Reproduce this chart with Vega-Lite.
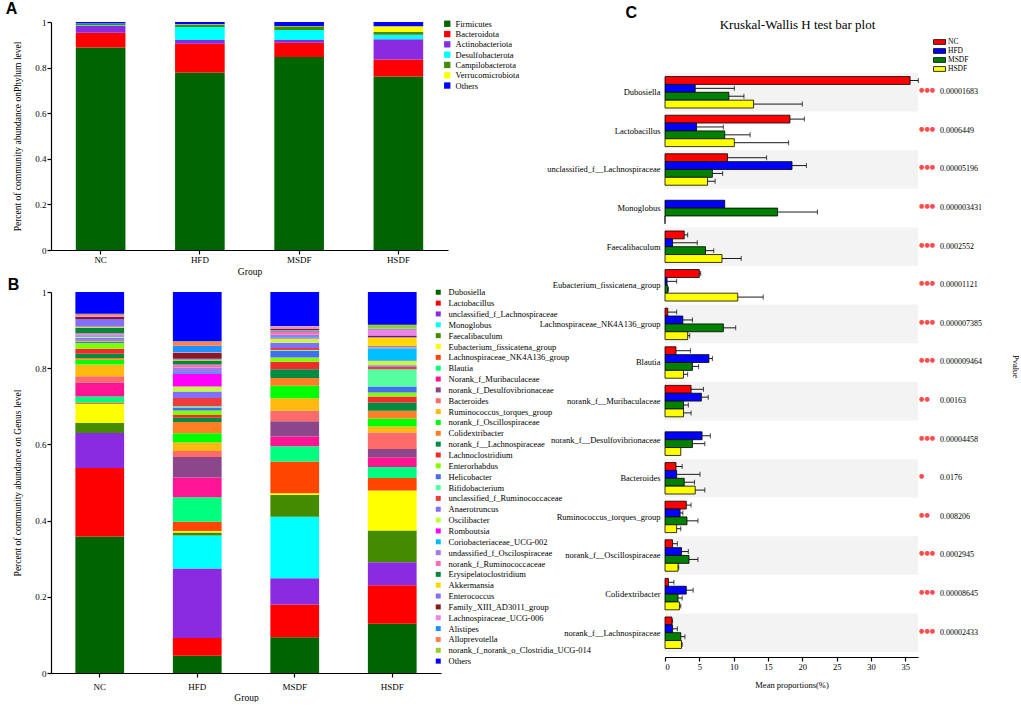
{
"$schema": "https://vega.github.io/schema/vega-lite/v6.json",
"background": "white",
"padding": {"left": 5, "top": 1, "right": 0, "bottom": 0},
"bounds": "flush",
"spacing": 614,
"resolve": {"scale": {"color": "independent"}, "legend": {"color": "independent"}},
"hconcat": [
{
"vconcat": [
{
"width": 397, "height": 228,
"title": {"text": "A", "anchor": "start", "frame": "bounds", "font": "Liberation Sans", "fontSize": 16, "fontWeight": "bold", "dx": -7, "offset": 1, "color": "black"},
"data": {"values": [
{"g":"NC","t":"Firmicutes","v":0.888},{"g":"NC","t":"Bacteroidota","v":0.065},{"g":"NC","t":"Actinobacteriota","v":0.029},{"g":"NC","t":"Desulfobacterota","v":0.004},{"g":"NC","t":"Campilobacterota","v":0.006},{"g":"NC","t":"Verrucomicrobiota","v":0.001},{"g":"NC","t":"Others","v":0.007},
{"g":"HFD","t":"Firmicutes","v":0.778},{"g":"HFD","t":"Bacteroidota","v":0.127},{"g":"HFD","t":"Actinobacteriota","v":0.016},{"g":"HFD","t":"Desulfobacterota","v":0.057},{"g":"HFD","t":"Campilobacterota","v":0.010},{"g":"HFD","t":"Verrucomicrobiota","v":0.002},{"g":"HFD","t":"Others","v":0.010},
{"g":"MSDF","t":"Firmicutes","v":0.847},{"g":"MSDF","t":"Bacteroidota","v":0.062},{"g":"MSDF","t":"Actinobacteriota","v":0.012},{"g":"MSDF","t":"Desulfobacterota","v":0.044},{"g":"MSDF","t":"Campilobacterota","v":0.016},{"g":"MSDF","t":"Verrucomicrobiota","v":0.002},{"g":"MSDF","t":"Others","v":0.017},
{"g":"HSDF","t":"Firmicutes","v":0.761},{"g":"HSDF","t":"Bacteroidota","v":0.075},{"g":"HSDF","t":"Actinobacteriota","v":0.088},{"g":"HSDF","t":"Desulfobacterota","v":0.020},{"g":"HSDF","t":"Campilobacterota","v":0.012},{"g":"HSDF","t":"Verrucomicrobiota","v":0.025},{"g":"HSDF","t":"Others","v":0.019}
]},
"transform": [{"window": [{"op": "row_number", "as": "k"}], "groupby": ["g"]}],
"mark": {"type": "bar"},
"encoding": {
"x": {"field": "g", "type": "nominal", "sort": ["NC","HFD","MSDF","HSDF"], "scale": {"paddingInner": 0.5, "paddingOuter": 0.25}, "axis": {"title": "Group", "labelAngle": 0, "labelPadding": 1.5, "titlePadding": 2}},
"y": {"field": "v", "type": "quantitative", "stack": "zero", "scale": {"domain": [0, 1], "nice": false}, "axis": {"title": "Percent of community abundance onPhylum level", "values": [0, 0.2, 0.4, 0.6, 0.8, 1], "format": ".1~f", "labelPadding": 1, "titlePadding": 12}},
"color": {"field": "t", "type": "nominal",
"scale": {"domain": ["Firmicutes","Bacteroidota","Actinobacteriota","Desulfobacterota","Campilobacterota","Verrucomicrobiota","Others"], "range": ["#006400","#FF0000","#8A2BE2","#00FFFF","#458B00","#FFFF00","#0000FF"]},
"legend": {"title": null, "orient": "none", "legendX": 392, "legendY": -2.5, "symbolType": "square", "symbolSize": 40, "symbolStrokeWidth": 0, "labelFontSize": 8.5, "rowPadding": 1.3, "labelOffset": 4}},
"order": {"field": "k", "type": "quantitative"}
}
},
{
"width": 390, "height": 381,
"title": {"text": "B", "anchor": "start", "frame": "bounds", "font": "Liberation Sans", "fontSize": 16, "fontWeight": "bold", "dx": -5, "offset": -5, "color": "black"},
"data": {"values": [
{"g":"NC","t":"Dubosiella","v":0.358},{"g":"NC","t":"Lactobacillus","v":0.180},{"g":"NC","t":"unclassified_f_Lachnospiraceae","v":0.092},{"g":"NC","t":"Monoglobus","v":0},{"g":"NC","t":"Faecalibaculum","v":0.026},{"g":"NC","t":"Eubacterium_fissicatena_group","v":0.051},{"g":"NC","t":"Lachnospiraceae_NK4A136_group","v":0.003},{"g":"NC","t":"Blautia","v":0.016},{"g":"NC","t":"Norank_f_Muribaculaceae","v":0.036},{"g":"NC","t":"norank_f_Desulfovibrionaceae","v":0.001},{"g":"NC","t":"Bacteroides","v":0.016},{"g":"NC","t":"Ruminococcus_torques_group","v":0.031},{"g":"NC","t":"norank_f_Oscillospiraceae","v":0.012},{"g":"NC","t":"Colidextribacter","v":0.005},{"g":"NC","t":"norank_f__Lachnospiraceae","v":0.011},{"g":"NC","t":"Lachnoclostridium","v":0.013},{"g":"NC","t":"Enterorhabdus","v":0.015},{"g":"NC","t":"Helicobacter","v":0.004},{"g":"NC","t":"Bifidobacterium","v":0.002},{"g":"NC","t":"unclassified_f_Ruminococcaceae","v":0.003},{"g":"NC","t":"Anaerotruncus","v":0.005},{"g":"NC","t":"Oscilibacter","v":0.002},{"g":"NC","t":"Romboutsia","v":0.001},{"g":"NC","t":"Coriobacteriaceae_UCG-002","v":0.002},{"g":"NC","t":"undassified_f_Oscilospiraceae","v":0.003},{"g":"NC","t":"norank_f_Ruminococcaceae","v":0.004},{"g":"NC","t":"Erysipelatoclostridium","v":0.014},{"g":"NC","t":"Akkermansia","v":0.003},{"g":"NC","t":"Enterococcus","v":0.020},{"g":"NC","t":"Family_XIII_AD3011_group","v":0.006},{"g":"NC","t":"Lachnospiraceae_UCG-006","v":0.002},{"g":"NC","t":"Alistipes","v":0.001},{"g":"NC","t":"Alloprevotella","v":0.004},{"g":"NC","t":"norank_f_norank_o_Clostridia_UCG-014","v":0.001},{"g":"NC","t":"Others","v":0.057},
{"g":"HFD","t":"Dubosiella","v":0.045},{"g":"HFD","t":"Lactobacillus","v":0.047},{"g":"HFD","t":"unclassified_f_Lachnospiraceae","v":0.182},{"g":"HFD","t":"Monoglobus","v":0.087},{"g":"HFD","t":"Faecalibaculum","v":0.008},{"g":"HFD","t":"Eubacterium_fissicatena_group","v":0.004},{"g":"HFD","t":"Lachnospiraceae_NK4A136_group","v":0.024},{"g":"HFD","t":"Blautia","v":0.064},{"g":"HFD","t":"Norank_f_Muribaculaceae","v":0.052},{"g":"HFD","t":"norank_f_Desulfovibrionaceae","v":0.054},{"g":"HFD","t":"Bacteroides","v":0.016},{"g":"HFD","t":"Ruminococcus_torques_group","v":0.022},{"g":"HFD","t":"norank_f_Oscillospiraceae","v":0.024},{"g":"HFD","t":"Colidextribacter","v":0.030},{"g":"HFD","t":"norank_f__Lachnospiraceae","v":0.011},{"g":"HFD","t":"Lachnoclostridium","v":0.007},{"g":"HFD","t":"Enterorhabdus","v":0.012},{"g":"HFD","t":"Helicobacter","v":0.008},{"g":"HFD","t":"Bifidobacterium","v":0.003},{"g":"HFD","t":"unclassified_f_Ruminococcaceae","v":0.022},{"g":"HFD","t":"Anaerotruncus","v":0.017},{"g":"HFD","t":"Oscilibacter","v":0.013},{"g":"HFD","t":"Romboutsia","v":0.035},{"g":"HFD","t":"Coriobacteriaceae_UCG-002","v":0.003},{"g":"HFD","t":"undassified_f_Oscilospiraceae","v":0.012},{"g":"HFD","t":"norank_f_Ruminococcaceae","v":0.008},{"g":"HFD","t":"Erysipelatoclostridium","v":0.010},{"g":"HFD","t":"Akkermansia","v":0.002},{"g":"HFD","t":"Enterococcus","v":0.003},{"g":"HFD","t":"Family_XIII_AD3011_group","v":0.015},{"g":"HFD","t":"Lachnospiraceae_UCG-006","v":0.002},{"g":"HFD","t":"Alistipes","v":0.017},{"g":"HFD","t":"Alloprevotella","v":0.010},{"g":"HFD","t":"norank_f_norank_o_Clostridia_UCG-014","v":0.002},{"g":"HFD","t":"Others","v":0.129},
{"g":"MSDF","t":"Dubosiella","v":0.094},{"g":"MSDF","t":"Lactobacillus","v":0.086},{"g":"MSDF","t":"unclassified_f_Lachnospiraceae","v":0.069},{"g":"MSDF","t":"Monoglobus","v":0.161},{"g":"MSDF","t":"Faecalibaculum","v":0.057},{"g":"MSDF","t":"Eubacterium_fissicatena_group","v":0.005},{"g":"MSDF","t":"Lachnospiraceae_NK4A136_group","v":0.083},{"g":"MSDF","t":"Blautia","v":0.040},{"g":"MSDF","t":"Norank_f_Muribaculaceae","v":0.026},{"g":"MSDF","t":"norank_f_Desulfovibrionaceae","v":0.040},{"g":"MSDF","t":"Bacteroides","v":0.027},{"g":"MSDF","t":"Ruminococcus_torques_group","v":0.033},{"g":"MSDF","t":"norank_f_Oscillospiraceae","v":0.033},{"g":"MSDF","t":"Colidextribacter","v":0.020},{"g":"MSDF","t":"norank_f__Lachnospiraceae","v":0.023},{"g":"MSDF","t":"Lachnoclostridium","v":0.020},{"g":"MSDF","t":"Enterorhabdus","v":0.011},{"g":"MSDF","t":"Helicobacter","v":0.018},{"g":"MSDF","t":"Bifidobacterium","v":0.002},{"g":"MSDF","t":"unclassified_f_Ruminococcaceae","v":0.005},{"g":"MSDF","t":"Anaerotruncus","v":0.014},{"g":"MSDF","t":"Oscilibacter","v":0.011},{"g":"MSDF","t":"Romboutsia","v":0.002},{"g":"MSDF","t":"Coriobacteriaceae_UCG-002","v":0.002},{"g":"MSDF","t":"undassified_f_Oscilospiraceae","v":0.006},{"g":"MSDF","t":"norank_f_Ruminococcaceae","v":0.007},{"g":"MSDF","t":"Erysipelatoclostridium","v":0.002},{"g":"MSDF","t":"Akkermansia","v":0.001},{"g":"MSDF","t":"Enterococcus","v":0.002},{"g":"MSDF","t":"Family_XIII_AD3011_group","v":0.003},{"g":"MSDF","t":"Lachnospiraceae_UCG-006","v":0.005},{"g":"MSDF","t":"Alistipes","v":0.001},{"g":"MSDF","t":"Alloprevotella","v":0.001},{"g":"MSDF","t":"norank_f_norank_o_Clostridia_UCG-014","v":0.001},{"g":"MSDF","t":"Others","v":0.089},
{"g":"HSDF","t":"Dubosiella","v":0.129},{"g":"HSDF","t":"Lactobacillus","v":0.101},{"g":"HSDF","t":"unclassified_f_Lachnospiraceae","v":0.061},{"g":"HSDF","t":"Monoglobus","v":0},{"g":"HSDF","t":"Faecalibaculum","v":0.083},{"g":"HSDF","t":"Eubacterium_fissicatena_group","v":0.105},{"g":"HSDF","t":"Lachnospiraceae_NK4A136_group","v":0.033},{"g":"HSDF","t":"Blautia","v":0.029},{"g":"HSDF","t":"Norank_f_Muribaculaceae","v":0.025},{"g":"HSDF","t":"norank_f_Desulfovibrionaceae","v":0.022},{"g":"HSDF","t":"Bacteroides","v":0.043},{"g":"HSDF","t":"Ruminococcus_torques_group","v":0.016},{"g":"HSDF","t":"norank_f_Oscillospiraceae","v":0.021},{"g":"HSDF","t":"Colidextribacter","v":0.020},{"g":"HSDF","t":"norank_f__Lachnospiraceae","v":0.022},{"g":"HSDF","t":"Lachnoclostridium","v":0.016},{"g":"HSDF","t":"Enterorhabdus","v":0.010},{"g":"HSDF","t":"Helicobacter","v":0.016},{"g":"HSDF","t":"Bifidobacterium","v":0.045},{"g":"HSDF","t":"unclassified_f_Ruminococcaceae","v":0.007},{"g":"HSDF","t":"Anaerotruncus","v":0.004},{"g":"HSDF","t":"Oscilibacter","v":0.011},{"g":"HSDF","t":"Romboutsia","v":0.001},{"g":"HSDF","t":"Coriobacteriaceae_UCG-002","v":0.032},{"g":"HSDF","t":"undassified_f_Oscilospiraceae","v":0.002},{"g":"HSDF","t":"norank_f_Ruminococcaceae","v":0.003},{"g":"HSDF","t":"Erysipelatoclostridium","v":0.002},{"g":"HSDF","t":"Akkermansia","v":0.021},{"g":"HSDF","t":"Enterococcus","v":0.002},{"g":"HSDF","t":"Family_XIII_AD3011_group","v":0.004},{"g":"HSDF","t":"Lachnospiraceae_UCG-006","v":0.014},{"g":"HSDF","t":"Alistipes","v":0.002},{"g":"HSDF","t":"Alloprevotella","v":0.002},{"g":"HSDF","t":"norank_f_norank_o_Clostridia_UCG-014","v":0.010},{"g":"HSDF","t":"Others","v":0.086}
]},
"transform": [{"window": [{"op": "row_number", "as": "k"}], "groupby": ["g"]}],
"mark": {"type": "bar"},
"encoding": {
"x": {"field": "g", "type": "nominal", "sort": ["NC","HFD","MSDF","HSDF"], "scale": {"paddingInner": 0.5, "paddingOuter": 0.25}, "axis": {"title": "Group", "labelAngle": 0, "labelPadding": 5, "titlePadding": 1}},
"y": {"field": "v", "type": "quantitative", "stack": "zero", "scale": {"domain": [0, 1], "nice": false}, "axis": {"title": "Percent of community abundance on Genus level", "values": [0, 0.2, 0.4, 0.6, 0.8, 1], "format": ".1~f", "labelPadding": 1, "titlePadding": 12}},
"color": {"field": "t", "type": "nominal",
"scale": {"domain": ["Dubosiella","Lactobacillus","unclassified_f_Lachnospiraceae","Monoglobus","Faecalibaculum","Eubacterium_fissicatena_group","Lachnospiraceae_NK4A136_group","Blautia","Norank_f_Muribaculaceae","norank_f_Desulfovibrionaceae","Bacteroides","Ruminococcus_torques_group","norank_f_Oscillospiraceae","Colidextribacter","norank_f__Lachnospiraceae","Lachnoclostridium","Enterorhabdus","Helicobacter","Bifidobacterium","unclassified_f_Ruminococcaceae","Anaerotruncus","Oscilibacter","Romboutsia","Coriobacteriaceae_UCG-002","undassified_f_Oscilospiraceae","norank_f_Ruminococcaceae","Erysipelatoclostridium","Akkermansia","Enterococcus","Family_XIII_AD3011_group","Lachnospiraceae_UCG-006","Alistipes","Alloprevotella","norank_f_norank_o_Clostridia_UCG-014","Others"],
"range": ["#006400","#FF0000","#8A2BE2","#00FFFF","#458B00","#FFFF00","#FF4500","#00FF7F","#FF1493","#8B4789","#FF6A6A","#FFB90F","#00FF00","#FF7F24","#008B45","#EE2C2C","#7FFF00","#436EEE","#54FF9F","#EE3B3B","#836FFF","#C0FF3E","#FF00FF","#00BFFF","#9F79EE","#FF6EB4","#00873C","#FFD700","#8470FF","#8B1A1A","#EE82EE","#1E90FF","#FF7F50","#9ACD32","#0000FF"]},
"legend": {"title": null, "orient": "none", "legendX": 383, "legendY": -4, "symbolType": "square", "symbolSize": 25, "symbolStrokeWidth": 0, "labelFontSize": 8.5, "rowPadding": 1.85, "labelOffset": 6, "labelLimit": 300, "symbolLimit": 50}},
"order": {"field": "k", "type": "quantitative"}
}
}
],
"bounds": "flush",
"spacing": 42,
"resolve": {"scale": {"color": "independent"}, "legend": {"color": "independent"}}
},
{
"width": 253, "height": 630,
"data": {"values": [
{"t":"Dubosiella","g":"NC","m":35.7,"u":36.9},{"t":"Dubosiella","g":"HFD","m":4.4,"u":10.1},{"t":"Dubosiella","g":"MSDF","m":9.3,"u":11.5},{"t":"Dubosiella","g":"HSDF","m":12.9,"u":20.0},
{"t":"Lactobacillus","g":"NC","m":18.2,"u":20.3},{"t":"Lactobacillus","g":"HFD","m":4.6,"u":8.5},{"t":"Lactobacillus","g":"MSDF","m":8.7,"u":12.4},{"t":"Lactobacillus","g":"HSDF","m":10.1,"u":18.0},
{"t":"unclassified_f__Lachnospiraceae","g":"NC","m":9.1,"u":14.8},{"t":"unclassified_f__Lachnospiraceae","g":"HFD","m":18.5,"u":20.6},{"t":"unclassified_f__Lachnospiraceae","g":"MSDF","m":6.9,"u":8.4},{"t":"unclassified_f__Lachnospiraceae","g":"HSDF","m":6.2,"u":7.3},
{"t":"Monoglobus","g":"HFD","m":8.7},{"t":"Monoglobus","g":"MSDF","m":16.4,"u":22.2},{"t":"Monoglobus","g":"HSDF","m":0},
{"t":"Faecalibaculum","g":"NC","m":2.8,"u":3.3},{"t":"Faecalibaculum","g":"HFD","m":1.1,"u":4.7},{"t":"Faecalibaculum","g":"MSDF","m":5.9,"u":7.1},{"t":"Faecalibaculum","g":"HSDF","m":8.3,"u":11.1},
{"t":"Eubacterium_fissicatena_group","g":"NC","m":5.0,"u":5.2},{"t":"Eubacterium_fissicatena_group","g":"HFD","m":0.3,"u":1.7},{"t":"Eubacterium_fissicatena_group","g":"MSDF","m":0.4,"u":0.5},{"t":"Eubacterium_fissicatena_group","g":"HSDF","m":10.6,"u":14.3},
{"t":"Lachnospiraceae_NK4A136_group","g":"NC","m":0.4,"u":1.7},{"t":"Lachnospiraceae_NK4A136_group","g":"HFD","m":2.6,"u":4.0},{"t":"Lachnospiraceae_NK4A136_group","g":"MSDF","m":8.5,"u":10.3},{"t":"Lachnospiraceae_NK4A136_group","g":"HSDF","m":3.3,"u":3.6},
{"t":"Blautia","g":"NC","m":1.6,"u":3.7},{"t":"Blautia","g":"HFD","m":6.4,"u":6.9},{"t":"Blautia","g":"MSDF","m":4.0,"u":4.9},{"t":"Blautia","g":"HSDF","m":2.7,"u":3.3},
{"t":"norank_f__Muribaculaceae","g":"NC","m":3.8,"u":5.6},{"t":"norank_f__Muribaculaceae","g":"HFD","m":5.3,"u":6.3},{"t":"norank_f__Muribaculaceae","g":"MSDF","m":2.7,"u":3.4},{"t":"norank_f__Muribaculaceae","g":"HSDF","m":2.7,"u":3.8},
{"t":"norank_f__Desulfovibrionaceae","g":"HFD","m":5.4,"u":6.6},{"t":"norank_f__Desulfovibrionaceae","g":"MSDF","m":4.0,"u":5.8},{"t":"norank_f__Desulfovibrionaceae","g":"HSDF","m":2.3},
{"t":"Bacteroides","g":"NC","m":1.6,"u":2.5},{"t":"Bacteroides","g":"HFD","m":1.7,"u":5.1},{"t":"Bacteroides","g":"MSDF","m":2.8,"u":4.3},{"t":"Bacteroides","g":"HSDF","m":4.4,"u":5.8},
{"t":"Ruminococcus_torques_group","g":"NC","m":3.1,"u":3.8},{"t":"Ruminococcus_torques_group","g":"HFD","m":2.2,"u":2.6},{"t":"Ruminococcus_torques_group","g":"MSDF","m":3.2,"u":4.8},{"t":"Ruminococcus_torques_group","g":"HSDF","m":1.7,"u":2.3},
{"t":"norank_f__Oscillospiraceae","g":"NC","m":1.1,"u":1.8},{"t":"norank_f__Oscillospiraceae","g":"HFD","m":2.4,"u":3.4},{"t":"norank_f__Oscillospiraceae","g":"MSDF","m":3.5,"u":4.8},{"t":"norank_f__Oscillospiraceae","g":"HSDF","m":1.9,"u":2.0},
{"t":"Colidextribacter","g":"NC","m":0.5,"u":1.3},{"t":"Colidextribacter","g":"HFD","m":3.1,"u":4.1},{"t":"Colidextribacter","g":"MSDF","m":1.9,"u":2.5},{"t":"Colidextribacter","g":"HSDF","m":2.1,"u":2.3},
{"t":"norank_f__Lachnospiraceae","g":"NC","m":1.0,"u":1.1},{"t":"norank_f__Lachnospiraceae","g":"HFD","m":1.1,"u":1.8},{"t":"norank_f__Lachnospiraceae","g":"MSDF","m":2.3,"u":2.9},{"t":"norank_f__Lachnospiraceae","g":"HSDF","m":2.4,"u":2.5}
]},
"resolve": {"axis": {"x": "independent", "y": "independent"}},
"layer": [
{
"data": {"name": "stats"},
"transform": [{"window": [{"op": "row_number", "as": "i"}]}, {"filter": "datum.i % 2 == 1"}],
"mark": {"type": "rect", "color": "#f3f3f3"},
"encoding": {
"x": {"datum": 0, "type": "quantitative", "scale": {"domain": [0, 36.85], "nice": false, "zero": true}, "axis": {"orient": "top", "title": "Kruskal-Wallis H test bar plot", "labels": false, "ticks": false, "domain": false, "titleFontSize": 13, "titleX": 132, "titleY": 2, "titleAlign": "center", "titleBaseline": "middle", "titleAngle": 0}},
"x2": {"datum": 36.85},
"y": {"field": "t", "type": "nominal", "scale": {"domain": ["Dubosiella","Lactobacillus","unclassified_f__Lachnospiraceae","Monoglobus","Faecalibaculum","Eubacterium_fissicatena_group","Lachnospiraceae_NK4A136_group","Blautia","norank_f__Muribaculaceae","norank_f__Desulfovibrionaceae","Bacteroides","Ruminococcus_torques_group","norank_f__Oscillospiraceae","Colidextribacter","norank_f__Lachnospiraceae"], "paddingInner": 0, "paddingOuter": 0.6606, "align": 1},
"axis": {"orient": "left", "domain": false, "ticks": false, "labelPadding": 5, "labelFontSize": 8.5, "labelLimit": 300, "title": "C", "titleFont": "Liberation Sans", "titleFontWeight": "bold", "titleFontSize": 16, "titleAngle": 0, "titleX": -40, "titleY": -18, "titleAlign": "left", "titleBaseline": "top"}}
}
},
{
"mark": {"type": "bar", "stroke": "black", "strokeWidth": 0.8},
"encoding": {
"x": {"field": "m", "type": "quantitative", "scale": {"domain": [0, 36.85], "nice": false}, "axis": {"orient": "bottom", "title": "Mean proportions(%)", "values": [0, 5, 10, 15, 20, 25, 30, 35], "offset": 5, "labelPadding": 1, "titlePadding": 10, "labelFontSize": 8.5, "titleFontSize": 8.5}},
"y": {"field": "t", "type": "nominal", "scale": {"domain": ["Dubosiella","Lactobacillus","unclassified_f__Lachnospiraceae","Monoglobus","Faecalibaculum","Eubacterium_fissicatena_group","Lachnospiraceae_NK4A136_group","Blautia","norank_f__Muribaculaceae","norank_f__Desulfovibrionaceae","Bacteroides","Ruminococcus_torques_group","norank_f__Oscillospiraceae","Colidextribacter","norank_f__Lachnospiraceae"], "paddingInner": 0, "paddingOuter": 0.6606, "align": 1}, "axis": null},
"yOffset": {"field": "g", "type": "nominal", "scale": {"domain": ["NC","HFD","MSDF","HSDF"], "paddingInner": 0, "paddingOuter": 0.455}},
"color": {"field": "g", "type": "nominal", "scale": {"domain": ["NC","HFD","MSDF","HSDF"], "range": ["#FF0000","#0000FF","#008000","#FFFF00"]},
"legend": {"title": null, "orient": "none", "legendX": 270, "legendY": 15.5, "symbolType": "M-1.5,-0.6H1.5V0.6H-1.5Z", "symbolSize": 64, "symbolStrokeColor": "black", "symbolStrokeWidth": 0.8, "labelFontSize": 7.5, "rowPadding": -0.7, "labelOffset": 4}}
}
},
{
"transform": [{"filter": "isValid(datum.u)"}],
"mark": {"type": "rule", "color": "black", "strokeWidth": 0.9},
"encoding": {
"x": {"field": "m", "type": "quantitative", "axis": null},
"x2": {"field": "u"},
"y": {"field": "t", "type": "nominal", "axis": null},
"yOffset": {"field": "g", "type": "nominal", "scale": {"domain": ["NC","HFD","MSDF","HSDF"], "paddingInner": 0, "paddingOuter": 0.455}}
}
},
{
"transform": [{"filter": "isValid(datum.u)"}],
"mark": {"type": "tick", "color": "black", "thickness": 1, "size": 5, "orient": "vertical"},
"encoding": {
"x": {"field": "u", "type": "quantitative", "axis": null},
"y": {"field": "t", "type": "nominal", "axis": null},
"yOffset": {"field": "g", "type": "nominal", "scale": {"domain": ["NC","HFD","MSDF","HSDF"], "paddingInner": 0, "paddingOuter": 0.455}}
}
},
{
"data": {"name": "stats"},
"mark": {"type": "text", "align": "left", "baseline": "middle", "font": "DejaVu Sans", "fontSize": 6.2, "color": "#ff4d4d", "dy": -2},
"encoding": {
"x": {"datum": 37.0, "type": "quantitative", "axis": null},
"y": {"field": "t", "type": "nominal", "axis": null},
"text": {"field": "sig"}
}
},
{
"data": {"name": "stats"},
"mark": {"type": "text", "align": "left", "baseline": "middle", "font": "Liberation Serif", "fontSize": 8, "color": "black"},
"encoding": {
"x": {"datum": 40.05, "type": "quantitative", "axis": null},
"y": {"field": "t", "type": "nominal", "axis": {"orient": "right", "labels": false, "ticks": false, "domain": false, "title": "Pvalue", "titleFontSize": 8.5, "titleAngle": 90, "titleX": 97, "titleY": 344, "titleAlign": "center", "titleBaseline": "middle"}},
"text": {"field": "p"}
}
}
]
}
],
"datasets": {
"stats": [
{"t":"Dubosiella","sig":"●●●","p":"0.00001683"},
{"t":"Lactobacillus","sig":"●●●","p":"0.0006449"},
{"t":"unclassified_f__Lachnospiraceae","sig":"●●●","p":"0.00005196"},
{"t":"Monoglobus","sig":"●●●","p":"0.000003431"},
{"t":"Faecalibaculum","sig":"●●●","p":"0.0002552"},
{"t":"Eubacterium_fissicatena_group","sig":"●●●","p":"0.00001121"},
{"t":"Lachnospiraceae_NK4A136_group","sig":"●●●","p":"0.000007385"},
{"t":"Blautia","sig":"●●●","p":"0.000009464"},
{"t":"norank_f__Muribaculaceae","sig":"●●","p":"0.00163"},
{"t":"norank_f__Desulfovibrionaceae","sig":"●●●","p":"0.00004458"},
{"t":"Bacteroides","sig":"●","p":"0.0176"},
{"t":"Ruminococcus_torques_group","sig":"●●","p":"0.008206"},
{"t":"norank_f__Oscillospiraceae","sig":"●●●","p":"0.0002945"},
{"t":"Colidextribacter","sig":"●●●","p":"0.00008645"},
{"t":"norank_f__Lachnospiraceae","sig":"●●●","p":"0.00002433"}
]
},
"config": {
"view": {"stroke": null},
"font": "Liberation Serif",
"axis": {"grid": false, "domainColor": "black", "tickColor": "black", "labelColor": "black", "titleColor": "black", "labelFont": "Liberation Serif", "titleFont": "Liberation Serif", "labelFontSize": 9, "titleFontSize": 9.5, "titleFontWeight": "normal", "tickSize": 4, "domainWidth": 1.2, "tickWidth": 1.2},
"legend": {"labelFont": "Liberation Serif", "labelColor": "black", "padding": 0},
"title": {"color": "black"}
}
}
